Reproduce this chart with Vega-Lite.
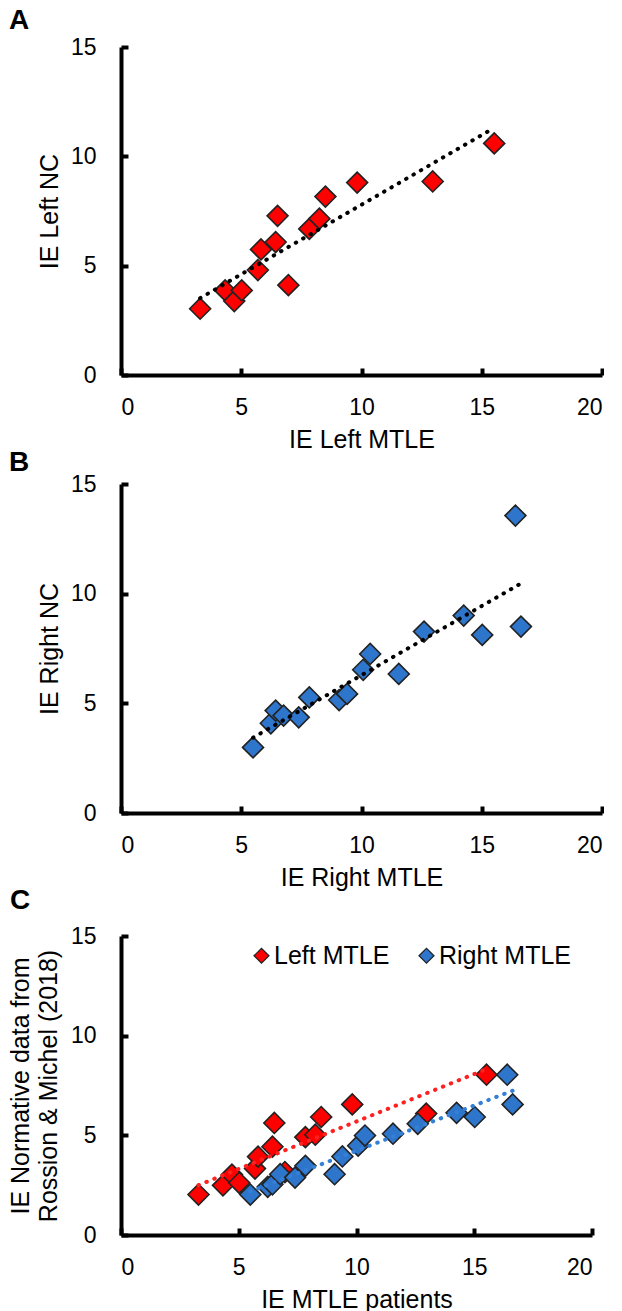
{
  "$schema": "https://vega.github.io/schema/vega-lite/v6.json",
  "background": "white",
  "padding": {"left": 8, "top": 7, "right": 0, "bottom": 0},
  "spacing": -3,
  "config": {
    "font": "Liberation Sans",
    "view": {"stroke": null},
    "axis": {"grid": false, "domainColor": "black", "domainWidth": 4, "tickColor": "black", "tickWidth": 4, "tickSize": -7, "labelFontSize": 23, "labelColor": "black", "titleFontSize": 25, "titleFontWeight": "normal", "titleColor": "black", "labelFont": "Liberation Sans", "titleFont": "Liberation Sans"},
    "axisX": {"labelPadding": 28, "titlePadding": 8},
    "axisY": {"labelPadding": 32, "titlePadding": 8},
    "title": {"fontSize": 28, "fontWeight": "bold", "anchor": "start", "frame": "group", "color": "black", "font": "Liberation Sans"}
  },
  "datasets": {
    "pts": [
      {"group": "Left MTLE", "mtle": 3.29, "nc": 3.03, "norm": 2.03},
      {"group": "Left MTLE", "mtle": 4.33, "nc": 3.87, "norm": 2.49},
      {"group": "Left MTLE", "mtle": 4.71, "nc": 3.38, "norm": 3.03},
      {"group": "Left MTLE", "mtle": 5.02, "nc": 3.87, "norm": 2.62},
      {"group": "Left MTLE", "mtle": 5.69, "nc": 4.80, "norm": 3.33},
      {"group": "Left MTLE", "mtle": 5.82, "nc": 5.74, "norm": 3.93},
      {"group": "Left MTLE", "mtle": 6.43, "nc": 6.08, "norm": 4.43},
      {"group": "Left MTLE", "mtle": 6.51, "nc": 7.28, "norm": 5.62},
      {"group": "Left MTLE", "mtle": 6.96, "nc": 4.11, "norm": 3.16},
      {"group": "Left MTLE", "mtle": 7.83, "nc": 6.68, "norm": 4.91},
      {"group": "Left MTLE", "mtle": 8.25, "nc": 7.15, "norm": 5.03},
      {"group": "Left MTLE", "mtle": 8.50, "nc": 8.16, "norm": 5.92},
      {"group": "Left MTLE", "mtle": 9.82, "nc": 8.80, "norm": 6.55},
      {"group": "Left MTLE", "mtle": 12.96, "nc": 8.85, "norm": 6.09},
      {"group": "Left MTLE", "mtle": 15.52, "nc": 10.59, "norm": 8.04},
      {"group": "Right MTLE", "mtle": 5.49, "nc": 2.99, "norm": 2.03},
      {"group": "Right MTLE", "mtle": 6.23, "nc": 4.09, "norm": 2.42},
      {"group": "Right MTLE", "mtle": 6.43, "nc": 4.67, "norm": 2.54},
      {"group": "Right MTLE", "mtle": 6.76, "nc": 4.44, "norm": 3.05},
      {"group": "Right MTLE", "mtle": 7.39, "nc": 4.36, "norm": 2.88},
      {"group": "Right MTLE", "mtle": 7.83, "nc": 5.27, "norm": 3.47},
      {"group": "Right MTLE", "mtle": 9.07, "nc": 5.15, "norm": 3.05},
      {"group": "Right MTLE", "mtle": 9.40, "nc": 5.43, "norm": 3.94},
      {"group": "Right MTLE", "mtle": 10.07, "nc": 6.53, "norm": 4.48},
      {"group": "Right MTLE", "mtle": 10.36, "nc": 7.25, "norm": 4.99},
      {"group": "Right MTLE", "mtle": 11.55, "nc": 6.34, "norm": 5.08},
      {"group": "Right MTLE", "mtle": 12.60, "nc": 8.27, "norm": 5.58},
      {"group": "Right MTLE", "mtle": 14.25, "nc": 9.00, "norm": 6.13},
      {"group": "Right MTLE", "mtle": 15.02, "nc": 8.12, "norm": 5.92},
      {"group": "Right MTLE", "mtle": 16.40, "nc": 13.56, "norm": 8.04},
      {"group": "Right MTLE", "mtle": 16.63, "nc": 8.50, "norm": 6.55}
    ]
  },
  "vconcat": [
    {
      "width": 481, "height": 328,
      "title": {"text": "A", "dx": -112, "offset": 1},
      "data": {"name": "pts"},
      "transform": [{"filter": "datum.group === 'Left MTLE'"}],
      "layer": [
        {
          "mark": {"type": "point", "shape": "diamond", "filled": true, "size": 440, "fill": "#ff0000", "stroke": "#222222", "strokeWidth": 1.6, "opacity": 1},
          "encoding": {
            "x": {"field": "mtle", "type": "quantitative", "scale": {"domain": [0, 20], "nice": false}, "axis": {"values": [0, 5, 10, 15, 20], "title": "IE Left MTLE"}},
            "y": {"field": "nc", "type": "quantitative", "scale": {"domain": [0, 15], "nice": false}, "axis": {"values": [0, 5, 10, 15], "title": "IE Left NC"}}
          }
        },
        {
          "transform": [{"regression": "nc", "on": "mtle"}],
          "mark": {"type": "line", "strokeDash": [0.5, 8], "strokeCap": "round", "strokeWidth": 4, "color": "black"},
          "encoding": {
            "x": {"field": "mtle", "type": "quantitative"},
            "y": {"field": "nc", "type": "quantitative"}
          }
        }
      ]
    },
    {
      "width": 481, "height": 329,
      "title": {"text": "B", "dx": -112, "offset": -4},
      "data": {"name": "pts"},
      "transform": [{"filter": "datum.group === 'Right MTLE'"}],
      "layer": [
        {
          "mark": {"type": "point", "shape": "diamond", "filled": true, "size": 440, "fill": "#2e75cc", "stroke": "#222222", "strokeWidth": 1.6, "opacity": 1},
          "encoding": {
            "x": {"field": "mtle", "type": "quantitative", "scale": {"domain": [0, 20], "nice": false}, "axis": {"values": [0, 5, 10, 15, 20], "title": "IE Right MTLE"}},
            "y": {"field": "nc", "type": "quantitative", "scale": {"domain": [0, 15], "nice": false}, "axis": {"values": [0, 5, 10, 15], "title": "IE Right NC"}}
          }
        },
        {
          "transform": [{"regression": "nc", "on": "mtle"}],
          "mark": {"type": "line", "strokeDash": [0.5, 8], "strokeCap": "round", "strokeWidth": 4, "color": "black"},
          "encoding": {
            "x": {"field": "mtle", "type": "quantitative"},
            "y": {"field": "nc", "type": "quantitative"}
          }
        }
      ]
    },
    {
      "width": 471, "height": 299,
      "title": {"text": "C", "dx": -111, "offset": 10},
      "data": {"name": "pts"},
      "layer": [
        {
          "mark": {"type": "point", "shape": "diamond", "filled": true, "size": 440, "stroke": "#222222", "strokeWidth": 1.6, "opacity": 1},
          "encoding": {
            "x": {"field": "mtle", "type": "quantitative", "scale": {"domain": [0, 20], "nice": false}, "axis": {"values": [0, 5, 10, 15, 20], "title": "IE MTLE patients"}},
            "y": {"field": "norm", "type": "quantitative", "scale": {"domain": [0, 15], "nice": false}, "axis": {"values": [0, 5, 10, 15], "title": ["IE Normative data from", "Rossion & Michel (2018)"], "titleLineHeight": 28, "titlePadding": 9}},
            "color": {"field": "group", "type": "nominal", "scale": {"domain": ["Left MTLE", "Right MTLE"], "range": ["#ff0000", "#2e75cc"]},
              "legend": {"orient": "none", "legendX": 128, "legendY": 896, "direction": "horizontal", "title": null, "labelFontSize": 25, "labelColor": "black", "labelFont": "Liberation Sans", "symbolType": "diamond", "symbolSize": 225, "symbolStrokeColor": "#222222", "symbolStrokeWidth": 1.2, "symbolOpacity": 1, "columnPadding": 24, "labelOffset": 0}}
          }
        },
        {
          "transform": [{"filter": "datum.group === 'Left MTLE'"}, {"regression": "norm", "on": "mtle"}],
          "mark": {"type": "line", "strokeDash": [0.5, 8], "strokeCap": "round", "strokeWidth": 4, "color": "#ff2020"},
          "encoding": {
            "x": {"field": "mtle", "type": "quantitative"},
            "y": {"field": "norm", "type": "quantitative"}
          }
        },
        {
          "transform": [{"filter": "datum.group === 'Right MTLE'"}, {"regression": "norm", "on": "mtle"}],
          "mark": {"type": "line", "strokeDash": [0.5, 8], "strokeCap": "round", "strokeWidth": 4, "color": "#3380d6"},
          "encoding": {
            "x": {"field": "mtle", "type": "quantitative"},
            "y": {"field": "norm", "type": "quantitative"}
          }
        }
      ]
    }
  ]
}
